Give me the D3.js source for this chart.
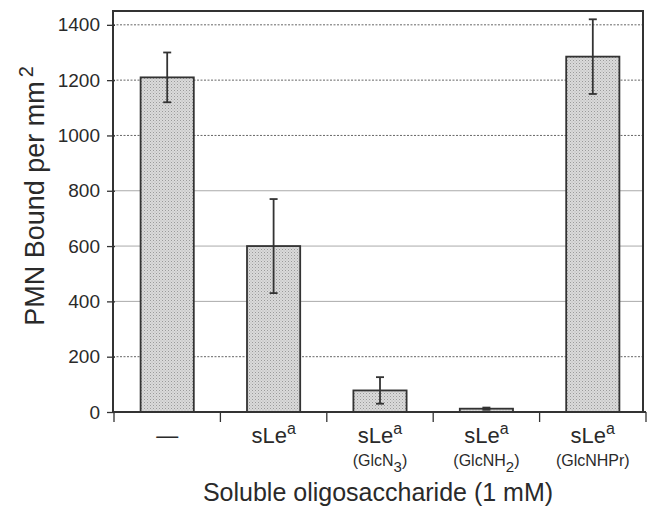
<!DOCTYPE html>
<html>
<head>
<meta charset="utf-8">
<script src="https://cdn.jsdelivr.net/npm/d3@7"></script>
<style>
  body { margin: 0; background: #fff; }
  text { font-family: "Liberation Sans", Arial, sans-serif; fill: #2a2a2a; }
</style>
</head>
<body>
<svg id="chart" width="669" height="508"></svg>
<script>
// ---- data ----
const categories = ["none", "sLea", "sLea-GlcN3", "sLea-GlcNH2", "sLea-GlcNHPr"];
const mainLabels = ["—", "sLe", "sLe", "sLe", "sLe"];
const supLabels = ["", "a", "a", "a", "a"];
const subLabels = [null, null, ["(GlcN", "3", ")"], ["(GlcNH", "2", ")"], ["(GlcNHPr)", "", ""]];
const values = [1210, 600, 78, 12, 1285];
const errors = [90, 170, 48, 4, 135];
const yTicks = [0, 200, 400, 600, 800, 1000, 1200, 1400];

const svg = d3.select("#chart");
const m = { left: 113, right: 643, top: 11, bottom: 412 };

const x = d3.scaleBand().domain(categories).range([114, 646]).paddingInner(0.5).paddingOuter(0.25);
const y = d3.scaleLinear().domain([0, 1450]).range([m.bottom, m.top]);

// pattern for the stippled bar fill
const defs = svg.append("defs");
const pat = defs.append("pattern").attr("id", "stipple")
  .attr("width", 3).attr("height", 3).attr("patternUnits", "userSpaceOnUse");
pat.append("rect").attr("width", 3).attr("height", 3).attr("fill", "#dadada");
pat.append("rect").attr("width", 1).attr("height", 1).attr("fill", "#9a9a9a");
pat.append("rect").attr("x", 1.5).attr("y", 1.5).attr("width", 1).attr("height", 1).attr("fill", "#b5b5b5");

// gridlines
svg.append("g").selectAll("line").data(yTicks.filter(d => d > 0)).join("line")
  .attr("x1", m.left).attr("x2", m.right)
  .attr("y1", d => y(d)).attr("y2", d => y(d))
  .attr("stroke", d => (d >= 400 && d <= 800) ? "#aaa" : "#666")
  .attr("stroke-width", 1)
  .attr("stroke-dasharray", d => (d >= 400 && d <= 800) ? null : "2,1.5");

// y axis
const yAxis = svg.append("g").attr("transform", `translate(${m.left},0)`)
  .call(d3.axisLeft(y).tickValues(yTicks).tickFormat(d3.format("d")).tickSize(6).tickPadding(7));
yAxis.select(".domain").remove();
yAxis.selectAll("line").attr("stroke", "#333").attr("stroke-width", 1.3).attr("x2", -6).attr("x1", 2);
yAxis.selectAll("text").attr("font-size", "19px").attr("fill", "#2a2a2a")
  .attr("font-family", "Liberation Sans, Arial, sans-serif");

// x axis ticks between categories
const bounds = categories.map(c => x(c) - x.step() * x.paddingInner() / 2);
bounds.push(x(categories[4]) + x.bandwidth() + x.step() * x.paddingInner() / 2);
svg.append("g").selectAll("line").data(bounds).join("line")
  .attr("x1", d => d).attr("x2", d => d)
  .attr("y1", m.bottom).attr("y2", m.bottom + 10)
  .attr("stroke", "#333").attr("stroke-width", 1.3);

// bars
svg.append("g").selectAll("rect").data(categories).join("rect")
  .attr("x", d => x(d))
  .attr("y", (d, i) => y(values[i]))
  .attr("width", x.bandwidth())
  .attr("height", (d, i) => y(0) - y(values[i]))
  .attr("fill", "url(#stipple)")
  .attr("stroke", "#333").attr("stroke-width", 1.8);

// error bars
const eb = svg.append("g").attr("stroke", "#333").attr("stroke-width", 1.8);
categories.forEach((c, i) => {
  const cx = x(c) + x.bandwidth() / 2;
  const hi = y(values[i] + errors[i]), lo = y(values[i] - errors[i]);
  eb.append("line").attr("x1", cx).attr("x2", cx).attr("y1", hi).attr("y2", lo);
  eb.append("line").attr("x1", cx - 4).attr("x2", cx + 4).attr("y1", hi).attr("y2", hi);
  eb.append("line").attr("x1", cx - 4).attr("x2", cx + 4).attr("y1", lo).attr("y2", lo);
});

// frame
svg.append("rect").attr("x", m.left).attr("y", m.top)
  .attr("width", m.right - m.left).attr("height", m.bottom - m.top)
  .attr("fill", "none").attr("stroke", "#333").attr("stroke-width", 2);
svg.append("line").attr("x1", m.left).attr("x2", bounds[5])
  .attr("y1", m.bottom).attr("y2", m.bottom).attr("stroke", "#333").attr("stroke-width", 2);

// category labels
const lab = svg.append("g");
categories.forEach((c, i) => {
  const cx = x(c) + x.bandwidth() / 2;
  const t = lab.append("text").attr("x", cx).attr("y", 443)
    .attr("text-anchor", "middle").attr("font-size", "22px");
  t.append("tspan").text(mainLabels[i]);
  if (supLabels[i]) t.append("tspan").attr("dy", -9).attr("font-size", "16px").text(supLabels[i]);
  if (subLabels[i]) {
    const s = lab.append("text").attr("x", cx).attr("y", 466)
      .attr("text-anchor", "middle").attr("font-size", "16px");
    s.append("tspan").text(subLabels[i][0]);
    if (subLabels[i][1]) {
      s.append("tspan").attr("dy", 6).attr("font-size", "15px").text(subLabels[i][1]);
      s.append("tspan").attr("dy", -6).text(subLabels[i][2]);
    }
  }
});

// axis titles
svg.append("text").attr("x", (m.left + m.right) / 2).attr("y", 501)
  .attr("text-anchor", "middle").attr("font-size", "25px")
  .text("Soluble oligosaccharide (1 mM)");

const yt = svg.append("text")
  .attr("transform", "translate(44,196) rotate(-90)")
  .attr("text-anchor", "middle").attr("font-size", "27px");
yt.append("tspan").text("PMN Bound per mm");
yt.append("tspan").attr("dy", -11).attr("dx", 4).attr("font-size", "20px").text("2");
</script>
</body>
</html>
